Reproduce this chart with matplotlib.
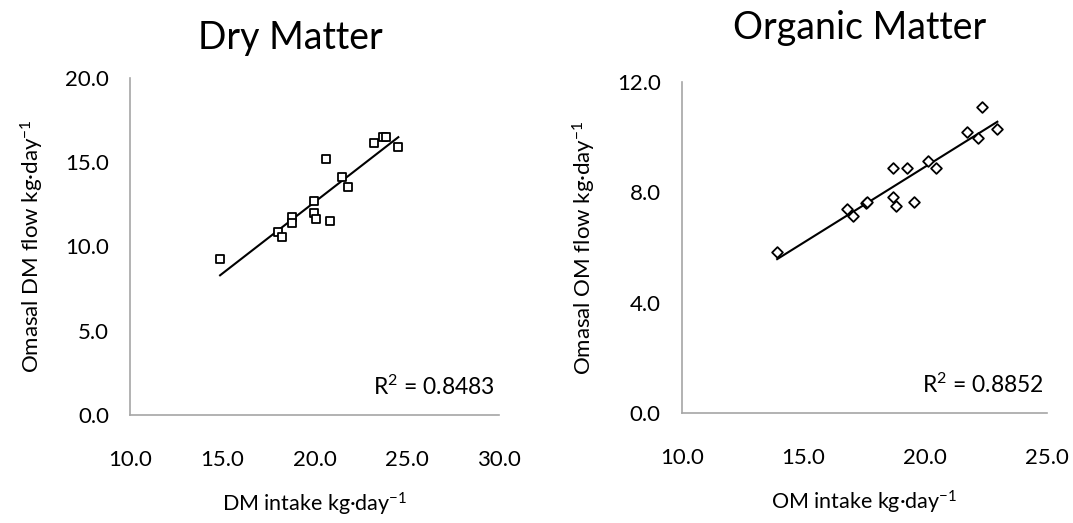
import numpy as np
import matplotlib
matplotlib.use('Agg')
import matplotlib.pyplot as plt
from matplotlib.ticker import FormatStrFormatter

plt.rcParams['font.family'] = ['Lato', 'DejaVu Sans']
plt.rcParams['mathtext.fontset'] = 'custom'
plt.rcParams['mathtext.rm'] = 'Lato'
plt.rcParams['mathtext.it'] = 'Lato'

# Dry matter: intake vs omasal flow, kg/day
dm_intake = [14.88, 18.04, 18.25, 18.80, 18.80, 19.99, 19.99, 20.08,
             20.86, 20.62, 21.51, 21.83, 23.22, 23.73, 23.88, 24.54]
dm_flow = [9.28, 10.84, 10.58, 11.77, 11.41, 12.72, 12.01, 11.65,
           11.53, 15.21, 14.14, 13.55, 16.16, 16.52, 16.52, 15.92]

# Organic matter: intake vs omasal flow, kg/day
om_intake = [13.92, 16.78, 17.05, 17.55, 17.62, 18.68, 18.68, 18.78,
             19.26, 19.52, 20.10, 20.43, 21.73, 22.16, 22.32, 22.96]
om_flow = [5.84, 7.38, 7.15, 7.60, 7.66, 8.89, 7.82, 7.50,
           8.89, 7.66, 9.12, 8.89, 10.19, 9.98, 11.07, 10.27]

dm_r2 = "R$^2$ = 0.8483"
om_r2 = "R$^2$ = 0.8852"

fig = plt.figure(figsize=(10.73, 5.23), dpi=100)
ax1 = fig.add_axes([0.1212, 0.2065, 0.3439, 0.6444])
ax2 = fig.add_axes([0.6353, 0.2098, 0.3405, 0.6340])


def panel(ax, x, y, marker, ms, xlim, xstep, ylim, ystep, xlabel, ylabel, r2):
    x = np.array(x)
    y = np.array(y)
    ax.scatter(x, y, marker=marker, s=ms, facecolors='white',
               edgecolors='black', linewidths=1.3, zorder=3)
    k, b = np.polyfit(x, y, 1)
    xs = np.array([x.min(), x.max()])
    ax.plot(xs, k * xs + b, color='black', lw=1.5, zorder=2)
    ax.set_xlim(*xlim)
    ax.set_ylim(*ylim)
    ax.set_xticks(np.arange(xlim[0], xlim[1] + 0.01, xstep))
    ax.set_yticks(np.arange(ylim[0], ylim[1] + 0.01, ystep))
    ax.xaxis.set_major_formatter(FormatStrFormatter('%.1f'))
    ax.yaxis.set_major_formatter(FormatStrFormatter('%.1f'))
    for s in ['top', 'right']:
        ax.spines[s].set_visible(False)
    for s in ['left', 'bottom']:
        ax.spines[s].set_color('#a6a6a6')
        ax.spines[s].set_linewidth(1.2)
    ax.tick_params(length=0, labelsize=16)
    ax.tick_params(axis='x', pad=25)
    ax.tick_params(axis='y', pad=15)
    ax.set_xlabel(xlabel, fontsize=15.5, labelpad=15)
    ax.set_ylabel(ylabel, fontsize=16, labelpad=14)
    ax.text(0.99, 0.085, r2, transform=ax.transAxes, ha='right',
            va='center', fontsize=16.5)


panel(ax1, dm_intake, dm_flow, 's', 34, (10, 30), 5, (0, 20), 5,
      "DM intake kg·day$^{-1}$", "Omasal DM flow kg·day$^{-1}$", dm_r2)
panel(ax2, om_intake, om_flow, 'D', 30, (10, 25), 5, (0, 12), 4,
      "OM intake kg·day$^{-1}$", "Omasal OM flow kg·day$^{-1}$", om_r2)

fig.text(290 / 1073, 1 - 38 / 523, "Dry Matter", ha='center', va='center', fontsize=27)
fig.text(860 / 1073, 1 - 28 / 523, "Organic Matter", ha='center', va='center', fontsize=27)

plt.savefig("out.png", dpi=100)
